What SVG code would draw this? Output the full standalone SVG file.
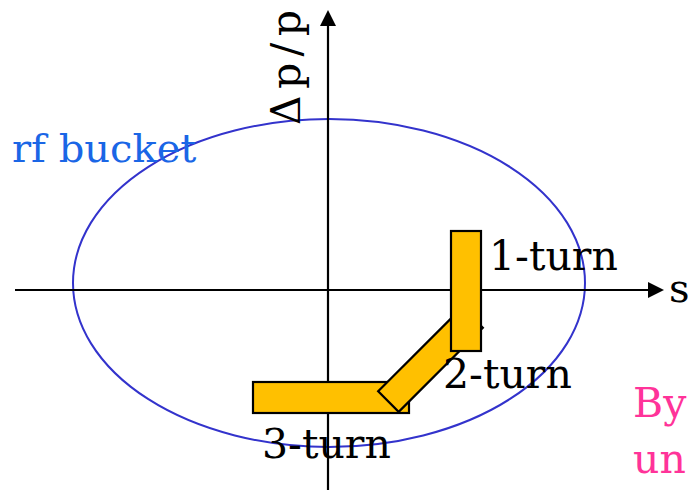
<svg xmlns="http://www.w3.org/2000/svg" width="688" height="490" viewBox="0 0 688 490">
<style>
.t{font-family:"DejaVu Serif","Liberation Serif",serif;font-size:40px;fill:#000}
.box{fill:#ffc000;stroke:#000;stroke-width:2.2}
.ax{stroke:#000;stroke-width:2.2;fill:none}
</style>
<g id="bucket">
<ellipse cx="329" cy="283" rx="256" ry="164" fill="none" stroke="#3333cc" stroke-width="2"/>
<text x="12" y="162" class="t" style="fill:#1a66e6">rf bucket</text>
</g>
<g id="connectors">
<line class="ax" x1="15" y1="290" x2="651" y2="290"/>
<path d="M648,282 L664,290 L648,298 Z" fill="#000"/>
<line class="ax" x1="328" y1="490" x2="328" y2="24"/>
<path d="M320,26 L328,10 L336,26 Z" fill="#000"/>
</g>
<g id="axis-labels">
<text class="t" transform="translate(300,125) rotate(-90)" style="font-size:41px" textLength="115" lengthAdjust="spacing">Δp/p</text>
<text x="669" y="302" class="t">s</text>
</g>
<g id="turn3">
<rect class="box" x="253" y="382" width="156" height="31"/>
</g>
<g id="turn2">
<rect class="box" x="-59.5" y="-14.5" width="119" height="29" transform="translate(430.5,359.5) rotate(-45)"/>
</g>
<g id="turn1">
<rect class="box" x="451" y="231" width="30" height="120"/>
</g>
<g id="labels">
<text x="489" y="270" class="t" style="font-size:41px">1-turn</text>
<text x="443" y="388" class="t" style="font-size:41px">2-turn</text>
<text x="262" y="458" class="t" style="font-size:41px">3-turn</text>
<text x="633" y="417" class="t" style="fill:#ff3399;font-size:41px">By</text>
<text x="633" y="473" class="t" style="fill:#ff3399;font-size:41px">un</text>
</g>
</svg>
